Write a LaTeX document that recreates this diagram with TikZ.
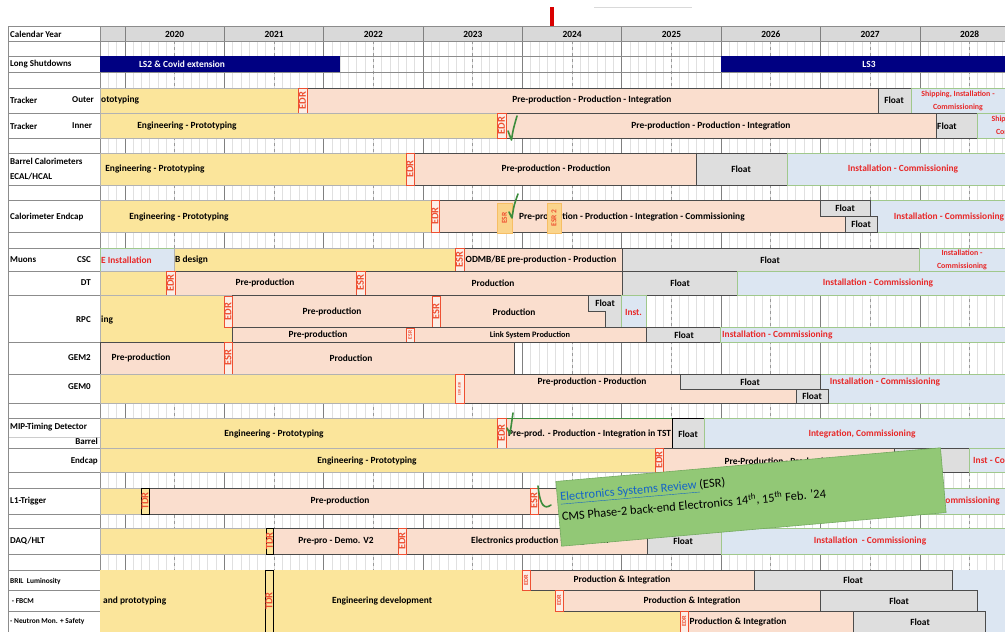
\documentclass[tikz,border=0pt]{standalone}
\usepackage{fontspec}
\setmainfont{Carlito}
\usepackage{xcolor}
\usepackage{tikz}
\usetikzlibrary{calc}

\definecolor{headgray}{RGB}{217,217,217}
\definecolor{engyellow}{RGB}{251,229,155}
\definecolor{prodpink}{RGB}{250,222,206}
\definecolor{floatgray}{RGB}{222,222,222}
\definecolor{instblue}{RGB}{220,230,242}
\definecolor{instgreen}{RGB}{160,200,140}
\definecolor{instred}{RGB}{232,40,40}
\definecolor{navybar}{RGB}{0,0,130}
\definecolor{markred}{RGB}{238,80,50}
\definecolor{esrfill}{RGB}{250,212,140}
\definecolor{esrline}{RGB}{246,190,100}
\definecolor{checkgreen}{RGB}{60,140,60}
\definecolor{notegreen}{RGB}{146,200,118}
\definecolor{noteline}{RGB}{115,170,95}
\definecolor{linkblue}{RGB}{20,100,200}

\begin{document}
\begin{tikzpicture}[x=1pt, y=-1pt,
    every node/.style={font=\bfseries\fontsize{9.4}{10}\selectfont, inner sep=1pt},
    rowlbl/.style={anchor=west, font=\bfseries\fontsize{9}{10}\selectfont},
    sidelbl/.style={anchor=east, font=\bfseries\fontsize{9}{10}\selectfont},
    smalltxt/.style={anchor=west, font=\bfseries\fontsize{7.4}{8}\selectfont},
    eng/.style={fill=engyellow, draw=black!30},
    prod/.style={fill=prodpink, draw=black!70, line width=0.7pt},
    flt/.style={fill=floatgray, draw=black!70, line width=0.7pt},
    inst/.style={fill=instblue, draw=instgreen, line width=0.7pt},
    rev/.style={fill=prodpink!50!white, draw=markred, line width=0.8pt},
    revtxt/.style={rotate=90, inner sep=0pt, text=markred, font=\bfseries\fontsize{10.5}{11}\selectfont},
    revtiny/.style={rotate=90, inner sep=0pt, text=markred, font=\bfseries\fontsize{6.3}{7}\selectfont},
    tdr/.style={fill=engyellow, draw=black, line width=0.8pt},
    esrmark/.style={fill=esrfill, draw=esrline, line width=0.8pt},
    redtxt/.style={text=instred},
    twoline/.style={align=center, text=instred, font=\bfseries\fontsize{7.9}{12.5}\selectfont},
    check/.style={draw=checkgreen, line width=1.6pt, line cap=round, line join=round},
    notebox/.style={fill=notegreen, draw=noteline, line width=0.6pt}]
\useasboundingbox (0,0) rectangle (1005,632);
\clip (0,0) rectangle (1005,632);

% grid
\fill[headgray] (100,26) rectangle (1005,41);
\foreach \m in {0,...,109}
    \draw[black!12] ({100+8.28*\m},41) -- ({100+8.28*\m},632);
\foreach \k in {0,...,8}
    \draw[black!40, dashed] ({174.5+99.36*\k},41) -- ({174.5+99.36*\k},632);
\foreach \k in {0,...,8}
    \draw[black!50, line width=0.7pt] ({125+99.36*\k},26) -- ({125+99.36*\k},632);
\foreach \y in {26,41,56,72,88,113,138,153,185,200,232,248,271,295,342,374,403,418,448,472,488,514,528,554,570,632}
    \draw[black!45] (8,\y) -- (1005,\y);
\foreach \y in {590,611}
    \draw[black!45] (8,\y) -- (100,\y);
\draw[black!20] (8,437) -- (100,437);
\draw[black!45] (8,26) -- (8,632);
\draw[black!45] (100,26) -- (100,632);
\foreach \yr [count=\k from 0] in {2020,...,2028}
    \node (yr\yr) at ({174.7+99.36*\k},34) {\yr};

% row labels
\node[rowlbl] (lblYear) at (9,34) {Calendar Year};
\node[rowlbl] (lblLS) at (9,64) {Long Shutdowns};
\node[rowlbl] (lblTrk1) at (9,100) {Tracker};
\node[rowlbl] (lblOuter) at (71,100) {Outer};
\node[rowlbl] (lblTrk2) at (9,126) {Tracker};
\node[rowlbl] (lblInner) at (71,126) {Inner};
\node[rowlbl, align=left, font=\bfseries\fontsize{9}{15}\selectfont] (lblBarrel) at (9,169) {Barrel Calorimeters\\ECAL/HCAL};
\node[rowlbl] (lblEndcap) at (9,217) {Calorimeter Endcap};
\node[rowlbl] (lblMuons) at (9,260) {Muons};
\node[sidelbl] (lblCSC) at (92,260) {CSC};
\node[sidelbl] (lblDT) at (92,283) {DT};
\node[sidelbl] (lblRPC) at (92,320) {RPC};
\node[sidelbl] (lblGEMtwo) at (92,358) {GEM2};
\node[sidelbl] (lblGEMzero) at (92,387) {GEM0};
\node[rowlbl] (lblMTD) at (9,427) {MIP-Timing Detector};
\node[sidelbl] (lblMTDb) at (99,441) {Barrel};
\node[sidelbl] (lblMTDe) at (99,461) {Endcap};
\node[rowlbl] (lblLone) at (9,501) {L1-Trigger};
\node[rowlbl] (lblDAQ) at (9,541) {DAQ/HLT};
\node[smalltxt] (lblBRIL) at (9,581) {BRIL\ \ Luminosity};
\node[smalltxt] (lblFBCM) at (9,601) {\ - FBCM};
\node[smalltxt] (lblNeutron) at (9,622) {- Neutron Mon. + Safety};

% long shutdowns
\fill[navybar] (100,56) rectangle (340,72); \node[text=white] (lsTwo) at (182,64) {LS2 \& Covid extension};
\fill[navybar] (721,56) rectangle (1010,72); \node[text=white] (lsThree) at (869,64) {LS3};

% tracker outer
\draw[eng] (100,88) rectangle (298,113); \node[anchor=west] (trOutEng) at (100,100) {ototyping};
\draw[prod] (307,88) rectangle (878,113); \node (trOutProd) at (592,100) {Pre-production - Production - Integration};
\draw[flt] (878,88) rectangle (911,113); \node (trOutFlt) at (894,100) {Float};
\draw[inst] (911,88) rectangle (1010,113); \node[twoline] (trOutInst) at (958,101) {Shipping, Installation -\\Commissioning};
\draw[rev] (298,88) rectangle (307,113); \node[revtxt] (trOutEdr) at (302.5,100.5) {EDR};

% tracker inner
\draw[eng] (100,113) rectangle (497,138); \node (trInEng) at (187,126) {Engineering - Prototyping};
\draw[prod] (506,113) rectangle (936,138); \node (trInProd) at (711,126) {Pre-production - Production - Integration};
\draw[flt] (936,113) rectangle (977,138); \node[anchor=west] (trInFlt) at (936,126) {Float};
\draw[inst] (977,113) rectangle (1010,138); \node[twoline] (trInInst) at (1021,126) {Ship, Installation -\\Commissioning};
\draw[rev] (497,113) rectangle (506,138); \node[revtxt] (trInEdr) at (501.5,125.5) {EDR};

% barrel calorimeters
\draw[eng] (100,153) rectangle (406,185); \node (bcEng) at (155,169) {Engineering - Prototyping};
\draw[prod] (414,153) rectangle (696,185); \node (bcProd) at (556,169) {Pre-production - Production};
\draw[flt] (696,153) rectangle (787,185); \node (bcFlt) at (741,169) {Float};
\draw[inst] (787,153) rectangle (1010,185); \node[redtxt] (bcInst) at (903,169) {Installation - Commissioning};
\draw[rev] (406,153) rectangle (414,185); \node[revtxt] (bcEdr) at (410,169) {EDR};

% calorimeter endcap
\draw[eng] (100,200) rectangle (431,232); \node (ceEng) at (179,217) {Engineering - Prototyping};
\draw[prod] (439,200) rectangle (845,232); \node[anchor=west] (ceProd) at (518,217) {Pre-production - Production - Integration - Commissioning};
\draw[inst] (870,200) rectangle (1010,232); \node[redtxt] (ceInst) at (949,217) {Installation - Commissioning};
\draw[flt] (820,200) rectangle (870,216); \node (ceFltA) at (845,208) {Float};
\draw[flt] (845,216) rectangle (877,232); \node (ceFltB) at (861,224) {Float};
\draw[rev] (431,200) rectangle (439,232); \node[revtxt] (ceEdr) at (435,216) {EDR};
\draw[esrmark] (497,203) rectangle (512,233); \node[revtxt, font=\bfseries\fontsize{7.5}{8}\selectfont] (ceEsr) at (504.5,218) {ESR};
\draw[esrmark] (547,203) rectangle (561,233); \node[revtxt, font=\bfseries\fontsize{7.5}{8}\selectfont] (ceEsrTwo) at (554,218) {ESR 2};

% muons CSC
\draw[inst] (100,248) rectangle (174,271); \node[anchor=west, redtxt] (cscInst) at (100,260) {E Installation};
\draw[eng] (174,248) rectangle (455,271); \node[anchor=west] (cscEng) at (174,260) {B design};
\draw[prod] (464,248) rectangle (622,271); \node (cscProd) at (541,260) {ODMB/BE pre-production - Production};
\draw[flt] (622,248) rectangle (919,271); \node (cscFlt) at (770,260) {Float};
\draw[inst] (919,248) rectangle (1010,271); \node[twoline] (cscInstB) at (962,260) {Installation -\\Commissioning};
\draw[rev] (455,248) rectangle (464,271); \node[revtxt] (cscEsr) at (459.5,259.5) {ESR};

% muons DT
\draw[eng] (100,271) rectangle (166,295);
\draw[prod] (175,271) rectangle (622,295); \node (dtPre) at (265,283) {Pre-production}; \node (dtProd) at (493,283) {Production};
\draw[flt] (622,271) rectangle (737,295); \node (dtFlt) at (680,283) {Float};
\draw[inst] (737,271) rectangle (1010,295); \node[redtxt] (dtInst) at (878,283) {Installation - Commissioning};
\draw[rev] (166,271) rectangle (175,295); \node[revtxt] (dtEdr) at (170.5,283) {EDR};
\draw[rev] (356,271) rectangle (365,295); \node[revtxt] (dtEsr) at (360.5,283) {ESR};

% muons RPC
\draw[eng] (100,295) rectangle (232,342); \node[anchor=west] (rpcEng) at (100,320) {ing};
\draw[prod] (232,295) rectangle (621,327); \node (rpcPre) at (332,312) {Pre-production}; \node (rpcProd) at (514,312) {Production};
\draw[flt] (588,295) -- (621,295) -- (621,327) -- (605,327) -- (605,311) -- (588,311) -- cycle; \node (rpcFlt) at (605,303) {Float};
\draw[inst] (621,295) rectangle (646,327); \node[redtxt] (rpcInst) at (633.5,312) {Inst.};
\draw[rev] (224,296) rectangle (232,327); \node[revtxt] (rpcEdr) at (228,311.5) {EDR};
\draw[rev] (432,296) rectangle (440,327); \node[revtxt] (rpcEsr) at (436,311.5) {ESR};
\draw[prod] (232,327) rectangle (646,342); \node (rpcLinkPre) at (318,335) {Pre-production};
\node[font=\bfseries\fontsize{8.3}{9}\selectfont] (rpcLink) at (530,335) {Link System Production};
\draw[flt] (646,327) rectangle (720,342); \node (rpcLinkFlt) at (684,335) {Float};
\draw[inst] (720,327) rectangle (1010,342); \node[anchor=west, redtxt] (rpcLinkInst) at (721,335) {Installation - Commissioning};
\draw[rev] (406,328) rectangle (414,342); \node[revtiny, font=\bfseries\fontsize{5.5}{6}\selectfont] (rpcLinkEsr) at (410,335) {ESR};

% muons GEM2
\draw[prod] (100,342) rectangle (224,374); \node (gemTwoPre) at (141,358) {Pre-production};
\draw[prod] (232,342) rectangle (514,374); \node (gemTwoProd) at (351,358) {Production};
\draw[rev] (224,342) rectangle (232,374); \node[revtxt] (gemTwoEsr) at (228,358) {ESR};

% muons GEM0
\draw[eng] (100,374) rectangle (455,403);
\draw[prod] (464,374) rectangle (796,403); \node (gemZeroProd) at (592,382) {Pre-production - Production};
\draw[inst] (820,374) rectangle (1010,403); \node[redtxt] (gemZeroInst) at (885,382) {Installation - Commissioning};
\draw[flt] (680,374) rectangle (820,389); \node (gemZeroFltA) at (750,382) {Float};
\draw[flt] (796,389) rectangle (828,403); \node (gemZeroFltB) at (812,396) {Float};
\draw[rev] (455,374) rectangle (464,403); \node[revtiny, font=\bfseries\fontsize{3.6}{4}\selectfont] (gemZeroRev) at (459.5,388.5) {EDR/ESR};

% MIP timing detector
\draw[eng] (100,418) rectangle (497,448); \node (mtdBEng) at (274,434) {Engineering - Prototyping};
\draw[prod, draw=checkgreen] (506,418) rectangle (672,448); \node[anchor=west] (mtdBProd) at (507,434) {Pre-prod. - Production - Integration in TST};
\draw[flt, draw=black] (672,418) rectangle (704,448); \node (mtdBFlt) at (688,434) {Float};
\draw[inst] (704,418) rectangle (1010,448); \node[redtxt] (mtdBInst) at (862,434) {Integration, Commissioning};
\draw[rev] (497,418) rectangle (506,448); \node[revtxt] (mtdBEdr) at (501.5,433) {EDR};
\draw[eng] (100,448) rectangle (655,472); \node (mtdEEng) at (367,461) {Engineering - Prototyping};
\draw[prod] (663,448) rectangle (894,472); \node (mtdEProd) at (779,461) {Pre-Production - Production};
\draw[flt] (894,448) rectangle (969,472);
\draw[inst] (969,448) rectangle (1010,472); \node[anchor=west, redtxt] (mtdEInst) at (972,461) {Inst - Commissioning};
\draw[rev] (655,448) rectangle (663,472); \node[revtxt] (mtdEEdr) at (659,460) {EDR};

% L1 trigger
\draw[eng] (100,488) rectangle (141,514);
\draw[prod] (149,488) rectangle (720,514); \node (lonePre) at (340,501) {Pre-production};
\draw[flt] (720,488) rectangle (820,514);
\draw[inst] (820,488) rectangle (1010,514); \node[anchor=east, redtxt] (loneInst) at (1001,501) {Installation - Commissioning};
\draw[tdr] (141,488) rectangle (149,514); \node[revtxt] (loneTdr) at (145,501) {TDR};
\draw[rev] (530,488) rectangle (538,514); \node[revtxt] (loneEsr) at (534,501) {ESR};

% DAQ/HLT
\draw[eng] (100,528) rectangle (266,554);
\draw[prod] (273,528) rectangle (647,554); \node (daqPre) at (336,541) {Pre-pro - Demo. V2};
\node[anchor=west] (daqProd) at (470,541) {Electronics production - Integration};
\draw[flt] (647,528) rectangle (721,554); \node (daqFlt) at (683,541) {Float};
\draw[inst] (721,528) rectangle (1010,554); \node[redtxt] (daqInst) at (870,541) {Installation\ \ - Commissioning};
\draw[tdr] (266,528) rectangle (273,554); \node[revtxt] (daqTdr) at (269.5,541) {TDR};
\draw[rev] (398,528) rectangle (406,554); \node[revtxt] (daqEdr) at (402,541) {EDR};

% BRIL
\fill[instblue] (952,570) rectangle (1010,632);
\fill[engyellow] (100,570) -- (522,570) -- (522,590) -- (555,590) -- (555,611) -- (680,611) -- (680,632) -- (100,632) -- cycle;
\node[anchor=west] (brilEngA) at (102,601) {and prototyping};
\node (brilEngB) at (382,601) {Engineering development};
\draw[prod] (530,570) rectangle (754,590); \node (brilLumProd) at (622,580) {Production \& Integration};
\draw[flt] (754,570) rectangle (952,590); \node (brilLumFlt) at (853,580) {Float};
\draw[prod] (563,590) rectangle (820,611); \node (brilFbcmProd) at (692,601) {Production \& Integration};
\draw[flt] (820,590) rectangle (977,611); \node (brilFbcmFlt) at (899,601) {Float};
\draw[prod] (688,611) rectangle (853,632); \node (brilNeuProd) at (738,622) {Production \& Integration};
\draw[flt] (853,611) rectangle (985,632); \node (brilNeuFlt) at (920,622) {Float};
\draw[rev] (522,570) rectangle (530,590); \node[revtiny] (brilLumEdr) at (526,580) {EDR};
\draw[rev] (555,590) rectangle (563,611); \node[revtiny] (brilFbcmEdr) at (559,600.5) {EDR};
\draw[rev] (680,611) rectangle (688,632); \node[revtiny] (brilNeuEdr) at (684,621.5) {EDR};
\draw[tdr] (265,570) rectangle (273,632); \node[revtxt] (brilTdr) at (269,601) {TDR};

% review ticks
\draw[check] (508,131) -- (511.5,140) .. controls (513,130) .. (517,116);
\draw[check] (509,212) -- (512,218) .. controls (514,205) .. (518,194);
\draw[check] (507,428) -- (510,434) .. controls (511,423) .. (513,413);
\draw[check] (538,486) .. controls (540,505) and (544,510) .. (551,505);

% ESR note
\node[notebox, rotate=5, minimum width=386pt, minimum height=65pt] (esrNote) at (751,497) {};
\node[rotate=5, anchor=west, align=left, inner xsep=3pt, font=\fontsize{12.4}{20}\selectfont] (esrText)
    at ($(esrNote.west)!0.2!(esrNote.north west)$)
    {\textcolor{linkblue}{\underline{Electronics Systems Review\ }}(ESR)\\CMS Phase-2 back-end Electronics 14\textsuperscript{th}, 15\textsuperscript{th} Feb. ’24};

% today marker
\fill[red!85!black] (550,7) rectangle (554,26);
\draw[black!15] (594,7) -- (692,7);
\end{tikzpicture}
\end{document}
